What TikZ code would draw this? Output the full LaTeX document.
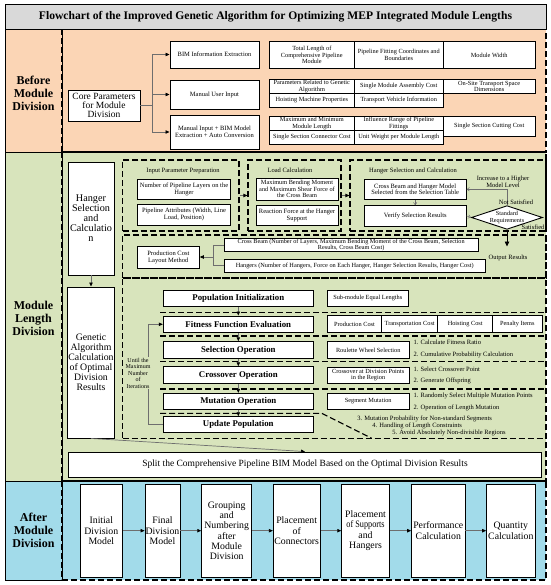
\documentclass[tikz,border=0pt]{standalone}
\usepackage{fontspec}
\usepackage{graphicx}
\setmainfont{Liberation Serif}
\usetikzlibrary{arrows.meta,shapes.geometric}
\newcommand{\myfs}[2]{\fontsize{#1}{#2}\selectfont}
\definecolor{peach}{HTML}{FBD5B5}
\definecolor{lgreen}{HTML}{D8E4BC}
\definecolor{lblue}{HTML}{A2DBEA}
\definecolor{tgray}{HTML}{D9D9D9}
\definecolor{lnc}{HTML}{6E6E6E}
\begin{document}
\begin{tikzpicture}[x=1pt,y=-1pt,
  bx/.style={draw=black, line width=0.9pt, fill=white, align=center, inner sep=0.5pt},
  sbx/.style={bx, line width=0.7pt, font=\myfs{6.3}{6.6}},
  mbx/.style={bx, font=\myfs{6.5}{6.9}},
  gbx/.style={bx, minimum width=150pt, font=\bfseries\myfs{8.8}{9}},
  abx/.style={bx, minimum height=93.3pt, font=\myfs{9.8}{10.3}},
  dsh/.style={draw=black, line width=1.1pt, dash pattern=on 6pt off 3pt},
  grp/.style={dsh, inner sep=0pt},
  ln/.style={draw=lnc, line width=0.7pt},
  arr/.style={ln, -{Triangle[length=4pt,width=3.4pt,color=black]}},
  thinarr/.style={ln, line width=0.5pt, -{Straight Barb[length=2.5pt,width=3.5pt]}},
  bigarr/.style={draw=black, line width=0.8pt, -{Triangle[length=5pt,width=4.5pt]}},
  lbl/.style={font=\myfs{6.5}{6.9}, align=center, inner sep=0.5pt},
  sec/.style={font=\bfseries\myfs{12}{13}, align=center},
]
\useasboundingbox (0,0) rectangle (550,585);
% ---------- section backgrounds ----------
\fill[peach] (5,29) rectangle (546,152);
\fill[lgreen] (5,152) rectangle (546,481);
\fill[lblue] (5,481) rectangle (546,580);
\draw[dsh] (62,29) rectangle (546,152);
\draw[dsh] (62,152) rectangle (546,481);
\draw[dsh] (62,481) rectangle (546,580);
\draw[line width=0.9pt] (5,29) rectangle (62,152) (5,152) rectangle (62,481) (5,481) rectangle (62,580);
\node[draw=black, line width=0.9pt, fill=tgray, minimum width=541pt, minimum height=25pt, inner sep=0pt, font=\bfseries\myfs{11.6}{13}] (title) at (275.5,16.5) {Flowchart of the Improved Genetic Algorithm for Optimizing MEP Integrated Module Lengths};
\node[sec] (secA) at (33.5,93) {Before\\Module\\Division};
\node[sec] (secB) at (33.5,318) {Module\\Length\\Division};
\node[sec] (secC) at (33.5,530.5) {After\\Module\\Division};
% ---------- before module division ----------
\node[bx, minimum width=72pt, minimum height=31pt, font=\myfs{9.5}{9}] (core) at (104,105.5) {Core Parameters\\for Module\\Division};
\node[mbx, minimum width=89pt, minimum height=27pt] (bim) at (214.5,54.5) {BIM Information Extraction};
\node[mbx, minimum width=89pt, minimum height=29pt] (manual) at (214.5,94.5) {Manual User Input};
\node[mbx, minimum width=89pt, minimum height=34pt] (mixed) at (214.5,132) {Manual Input + BIM Model\\Extraction + Auto Conversion};
\coordinate (brk) at (152,105.5);
\draw[ln] (core.east) -- (brk);
\draw[arr] (brk) |- (bim.west);
\draw[arr] (brk) |- (manual.west);
\draw[arr] (brk) |- (mixed.west);
\node[sbx, minimum width=85pt, minimum height=26.6pt] (tl) at (311.8,55) {Total Length of\\Comprehensive Pipeline\\Module};
\node[sbx, minimum width=89pt, minimum height=26.6pt] (pf) at (398.8,55) {Pipeline Fitting Coordinates and\\Boundaries};
\node[sbx, minimum width=91.7pt, minimum height=26.6pt] (mw) at (489.2,55) {Module Width};
\node[sbx, minimum width=85pt, minimum height=14pt] (gap) at (311.8,86.3) {Parameters Related to Genetic\\Algorithm};
\node[sbx, minimum width=89pt, minimum height=14pt] (smac) at (398.8,86.3) {Single Module Assembly Cost};
\node[sbx, minimum width=91.7pt, minimum height=14pt] (otsd) at (489.2,86.3) {On-Site Transport Space\\Dimensions};
\node[sbx, minimum width=85pt, minimum height=14pt] (hmp) at (311.8,100.3) {Hoisting Machine Properties};
\node[sbx, minimum width=89pt, minimum height=14pt] (tvi) at (398.8,100.3) {Transport Vehicle Information};
\node[sbx, minimum width=85pt, minimum height=13.6pt] (mml) at (311.8,123.5) {Maximum and Minimum\\Module Length};
\node[sbx, minimum width=89pt, minimum height=13.6pt] (irf) at (398.8,123.5) {Influence Range of Pipeline\\Fittings};
\node[sbx, minimum width=91.7pt, minimum height=19.3pt] (sscc) at (489.2,126.3) {Single Section Cutting Cost};
\node[sbx, minimum width=85pt, minimum height=14pt] (sscon) at (311.8,137.3) {Single Section Connector Cost};
\node[sbx, minimum width=89pt, minimum height=14pt] (uwml) at (398.8,137.3) {Unit Weight per Module Length};
% ---------- module length division ----------
\node[bx, minimum width=46pt, minimum height=113pt, font=\myfs{10.2}{10}] (hsel) at (91,218.5) {Hanger\\Selection\\and\\Calculatio\\n};
\node[bx, minimum width=46pt, minimum height=151pt, font=\myfs{9.8}{10}] (gacalc) at (91,362.5) {Genetic\\Algorithm\\Calculation\\of Optimal\\Division\\Results};
\node[bx, minimum width=473.7pt, minimum height=25pt, font=\myfs{9.5}{10}] (splitm) at (305,464.5) {Split the Comprehensive Pipeline BIM Model Based on the Optimal Division Results};
\draw[arr] (hsel.south) -- (gacalc.north);
\draw[arr] (gacalc.south) -- (splitm.north);
% groups
\node[grp, minimum width=116.3pt, minimum height=71pt] (ippg) at (180.85,195.5) {};
\node[grp, minimum width=93pt, minimum height=71pt] (lcg) at (294.5,195.5) {};
\node[grp, minimum width=196pt, minimum height=71pt] (hscg) at (448,195.5) {};
\node[grp, minimum width=423.3pt, minimum height=43pt] (outg) at (334.35,256.5) {};
\node[grp, minimum width=423.3pt, minimum height=160.3pt] (gag) at (334.35,358.15) {};
% input parameter preparation
\node[lbl] (ipt) at (183,170.7) {Input Parameter Preparation};
\node[mbx, minimum width=93.4pt, minimum height=20pt] (ip1) at (184,189) {Number of Pipeline Layers on the\\Hanger};
\node[mbx, minimum width=93.4pt, minimum height=20.7pt] (ip2) at (184,214.7) {Pipeline Attributes (Width, Line\\Load, Position)};
\draw[arr] (ippg.east) -- (lcg.west);
% load calculation
\node[lbl] (lct) at (290,170.7) {Load Calculation};
\node[bx, minimum width=82pt, minimum height=22pt, font=\myfs{6.3}{6.6}] (lc1) at (297,189) {Maximum Bending Moment\\and Maximum Shear Force of\\the Cross Beam};
\node[mbx, minimum width=82pt, minimum height=20pt] (lc2) at (297,215) {Reaction Force at the Hanger\\Support};
\draw[arr] (lcg.east) -- (hscg.west);
% hanger selection
\node[lbl] (hst) at (413,170.7) {Hanger Selection and Calculation};
\node[mbx, minimum width=101.7pt, minimum height=20pt] (hs1) at (415.2,189.3) {Cross Beam and Hanger Model\\Selected from the Selection Table};
\node[mbx, minimum width=101.7pt, minimum height=20.3pt] (hs2) at (415.2,215.9) {Verify Selection Results};
\node[diamond, draw=black, line width=0.9pt, fill=white, aspect=3, inner sep=0pt, minimum width=65pt, minimum height=22pt, align=center, font=\myfs{6.2}{6.6}] (dm) at (507,217.5) {Standard\\Requirements};
\draw[thinarr] (hs1.south) -- (hs2.north);
\draw[thinarr] (hs2.east) -- (dm.west);
\draw[thinarr] (dm.north) |- (hs1.east);
\node[lbl] (inc) at (503,181.5) {Increase to a Higher\\Model Level};
\node[lbl] (nots) at (516,202.5) {Not Satisfied};
\node[lbl] (sat) at (533,227.5) {Satisfied};
\coordinate (outp) at (507,246.5);
\draw[bigarr] (dm.south) -- (outp);
\node[lbl] (outr) at (508,258.3) {Output Results};
% output
\node[mbx, minimum width=62pt, minimum height=22pt] (pcl) at (168.3,257) {Production Cost\\Layout Method};
\node[bx, minimum width=254pt, minimum height=13.4pt, font=\myfs{6.2}{6.4}] (cbr) at (351.2,245) {Cross Beam (Number of Layers, Maximum Bending Moment of the Cross Beam, Selection\\Results, Cross Beam Cost)};
\node[bx, minimum width=260.7pt, minimum height=12.7pt, font=\myfs{6.3}{6.6}] (hgr) at (354.7,265.7) {Hangers (Number of Hangers, Force on Each Hanger, Hanger Selection Results, Hanger Cost)};
\coordinate (bt) at (213.3,245);
\coordinate (bb) at (213.3,265.7);
\coordinate (bm) at (213.3,257);
\draw[ln] (cbr.west) -- (bt) -- (bb) -- (hgr.west);
\draw[arr] (bm) -- (pcl.east);
% genetic algorithm rows
\draw[dsh] (160,312.7) -- (546,312.7);
\draw[dsh] (160,336) -- (546,336);
\draw[dsh] (160,361.7) -- (546,361.7);
\draw[dsh] (160,389) -- (546,389);
\draw[dsh] (160,413.3) -- (321.7,413.3) -- (371.7,438.3);
\node[gbx, minimum height=16.7pt] (pi) at (238.3,298.3) {Population Initialization};
\node[gbx, minimum height=16.7pt] (ff) at (238.3,324.3) {Fitness Function Evaluation};
\node[gbx, minimum height=16.6pt] (so) at (238.3,350) {Selection Operation};
\node[gbx, minimum height=16.6pt] (co) at (238.3,375) {Crossover Operation};
\node[gbx, minimum height=15.7pt] (mo) at (238.3,401.2) {Mutation Operation};
\node[gbx, minimum height=15.6pt] (up) at (238.3,424.5) {Update Population};
\draw[arr] (pi.south) -- (ff.north);
\draw[arr] (ff.south) -- (so.north);
\draw[arr] (so.south) -- (co.north);
\draw[arr] (co.south) -- (mo.north);
\draw[arr] (mo.south) -- (up.north);
\coordinate (lpA) at (148.3,424.5);
\coordinate (lpB) at (148.3,324.3);
\draw[arr] (up.west) -- (lpA) -- (lpB) -- (ff.west);
\node[lbl, fill=lgreen, font=\myfs{6}{6.5}] (until) at (138,373) {Until the\\Maximum\\Number\\of\\Iterations};
\node[sbx, minimum width=81pt, minimum height=16.7pt] (sme) at (367.8,298.3) {Sub-module Equal Lengths};
\node[sbx, minimum width=54.4pt, minimum height=17pt] (pcost) at (354.5,324.2) {Production Cost};
\node[sbx, minimum width=56pt, minimum height=17pt] (tcost) at (409.7,324.2) {Transportation Cost};
\node[sbx, minimum width=55pt, minimum height=17pt] (hcost) at (465.2,324.2) {Hoisting Cost};
\node[sbx, minimum width=49.3pt, minimum height=17pt] (pitem) at (517.3,324.2) {Penalty Items};
\node[sbx, minimum width=81.7pt, minimum height=16.6pt] (rws) at (368.2,350) {Roulette Wheel Selection};
\node[lbl, anchor=west] (s1) at (413,342.5) {1. Calculate Fitness Ratio};
\node[lbl, anchor=west] (s2) at (413,354.5) {2. Cumulative Probability Calculation};
\node[sbx, minimum width=81.7pt, minimum height=16.3pt] (cxd) at (368.2,375.2) {Crossover at Division Points\\in the Region};
\node[lbl, anchor=west] (c1) at (413,369.5) {1. Select Crossover Point};
\node[lbl, anchor=west] (c2) at (413,380.5) {2. Generate Offspring};
\node[sbx, minimum width=81.7pt, minimum height=15.7pt] (sgm) at (368.2,401.2) {Segment Mutation};
\node[lbl, anchor=west] (m1) at (413,396) {1. Randomly Select Multiple Mutation Points};
\node[lbl, anchor=west] (m2) at (413,408) {2. Operation of Length Mutation};
\node[lbl, anchor=west] (m3) at (356.7,418.5) {3. Mutation Probability for Non-standard Segments};
\node[lbl, anchor=west] (m4) at (371.7,426) {4. Handling of Length Constraints};
\node[lbl, anchor=west] (m5) at (391.7,433.3) {5. Avoid Absolutely Non-divisible Regions};
% ---------- after module division ----------
\node[abx, minimum width=42.7pt] (a1) at (101.3,530.7) {Initial\\Division\\Model};
\node[abx, minimum width=35pt] (a2) at (162.5,530.7) {Final\\Division\\Model};
\node[abx, minimum width=50pt] (a3) at (226.7,530.7) {Grouping\\and\\Numbering\\after\\Module\\Division};
\node[abx, minimum width=46.7pt] (a4) at (296.7,530.7) {Placement\\of\\Connectors};
\node[abx, minimum width=47.6pt] (a5) at (365.5,530.7) {Placement\\\scalebox{0.84}[1]{of Supports}\\and\\Hangers};
\node[abx, minimum width=53.3pt] (a6) at (438.3,530.7) {Performance\\Calculation};
\node[abx, minimum width=48.3pt] (a7) at (510.8,530.7) {Quantity\\Calculation};
\draw[arr] (a1) -- (a2);
\draw[arr] (a2) -- (a3);
\draw[arr] (a3) -- (a4);
\draw[arr] (a4) -- (a5);
\draw[arr] (a5) -- (a6);
\draw[arr] (a6) -- (a7);
\end{tikzpicture}
\end{document}
